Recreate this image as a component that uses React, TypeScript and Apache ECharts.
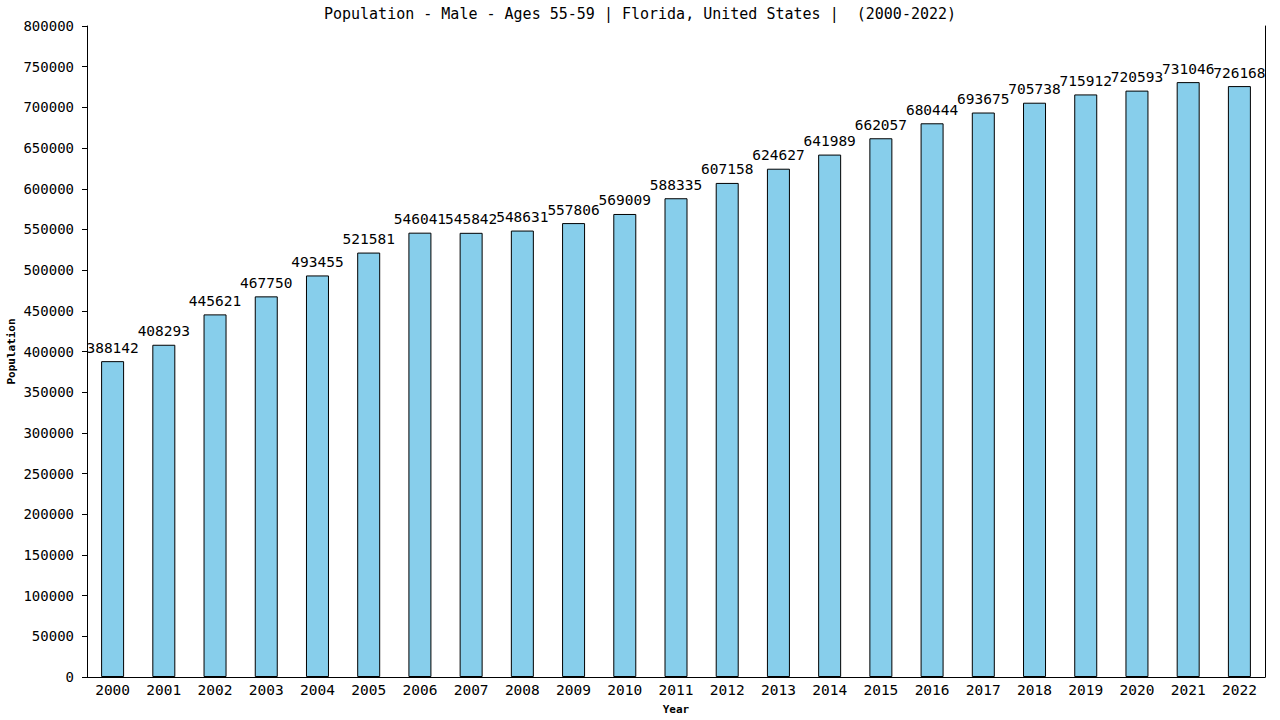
import React, { useEffect, useRef } from "react";
import * as echarts from "echarts";

const years = ["2000","2001","2002","2003","2004","2005","2006","2007","2008","2009","2010","2011","2012","2013","2014","2015","2016","2017","2018","2019","2020","2021","2022"];
const population = [388142,408293,445621,467750,493455,521581,546041,545842,548631,557806,569009,588335,607158,624627,641989,662057,680444,693675,705738,715912,720593,731046,726168];
const titleText = "Population - Male - Ages 55-59 | Florida, United States |  (2000-2022)";
const FONT = "'DejaVu Sans Mono', 'Liberation Mono', monospace";

export default function App() {
  const ref = useRef<HTMLDivElement>(null);
  useEffect(() => {
    if (!ref.current) return;
    const chart = echarts.init(ref.current, null, { renderer: "svg" });
    chart.setOption({
      animation: false,
      backgroundColor: "#ffffff",
      title: {
        text: titleText,
        left: "center",
        top: 1,
        textStyle: { fontFamily: FONT, fontSize: 15, fontWeight: "normal", color: "#000" },
      },
      grid: { left: 87, right: 15, top: 26, bottom: 43, containLabel: false, outerBoundsMode: "none" },
      xAxis: {
        type: "category",
        data: years,
        name: "Year",
        nameLocation: "middle",
        nameGap: 27,
        nameTextStyle: { fontFamily: FONT, fontSize: 11, fontWeight: "bold", color: "#000" },
        axisLine: { lineStyle: { color: "#000", width: 1 } },
        axisTick: { show: false },
        axisLabel: { fontFamily: FONT, fontSize: 14.5, color: "#000", margin: 5 },
      },
      yAxis: [
        {
          type: "value",
          min: 0,
          max: 800000,
          interval: 50000,
          name: "Population",
          nameLocation: "middle",
          nameRotate: 90,
          nameGap: 70,
          nameMoveOverlap: false,
          nameTextStyle: { fontFamily: FONT, fontSize: 11, fontWeight: "bold", color: "#000" },
          axisLine: { show: true, lineStyle: { color: "#000", width: 1 } },
          axisTick: { show: true, length: 5, lineStyle: { color: "#000" } },
          axisLabel: {
            fontFamily: FONT,
            fontSize: 14,
            color: "#000",
            margin: 13,
            formatter: (v: number) => String(v),
          },
          splitLine: { show: false },
        },
        {
          type: "value",
          min: 0,
          max: 800000,
          interval: 50000,
          position: "right",
          axisLine: { show: true, lineStyle: { color: "#000", width: 1 } },
          axisTick: { show: false },
          axisLabel: { show: false },
          splitLine: { show: false },
        },
      ],
      series: [
        {
          type: "bar",
          data: population,
          barWidth: 23,
          itemStyle: { color: "#87CEEB", borderColor: "#000", borderWidth: 1 },
          label: {
            show: true,
            position: "top",
            distance: 6,
            fontFamily: FONT,
            fontSize: 14.5,
            color: "#000",
          },
        },
      ],
    });
    return () => chart.dispose();
  }, []);
  return (
    <div
      ref={ref}
      style={{ position: "fixed", left: 0, top: 0, width: 1280, height: 720, background: "#fff" }}
    />
  );
}
